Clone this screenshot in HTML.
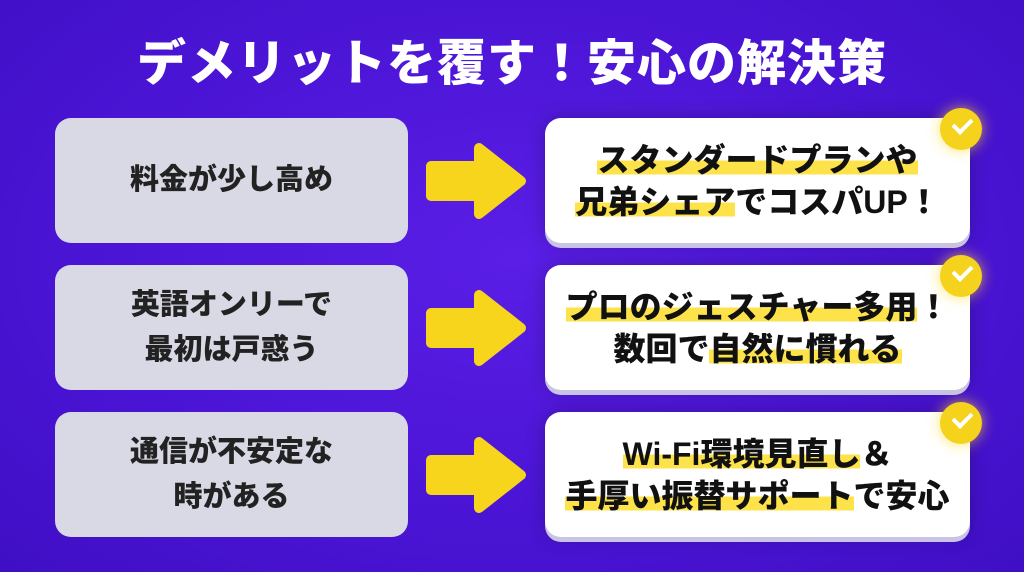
<!DOCTYPE html>
<html><head><meta charset="utf-8"><style>
body{margin:0;width:1024px;height:572px;overflow:hidden;background:radial-gradient(ellipse at 50% 45%,#5a1ee6 0%,#4a14d4 60%,#3f0fc4 100%);font-family:"Liberation Sans","Noto Sans CJK JP",sans-serif;position:relative}
.t{position:absolute;left:0;width:1024px;top:34px;text-align:center;color:#fff;font-size:49px;font-weight:900;letter-spacing:1px;line-height:60px}
.l{position:absolute;left:55px;width:353px;height:125px;background:#d9d9e6;border-radius:16px;display:flex;align-items:center;justify-content:center;text-align:center;font-size:29px;font-weight:900;color:#222;line-height:45px}
.r{position:absolute;left:545px;width:425px;height:125px;background:#fff;border-radius:16px;box-shadow:0 5px 0 #c9c3e6,0 0 18px rgba(0,0,0,.25);display:flex;align-items:center;justify-content:center;text-align:center;font-size:32px;font-weight:900;color:#111;line-height:42px}
.h{background:linear-gradient(transparent 52%,#fde24a 52%,#fde24a 90%,transparent 90%)}
.c{position:absolute;left:940px;width:42px;height:42px;border-radius:50%;background:#f5d21c;box-shadow:0 0 14px rgba(255,220,40,.7)}
.c:after{content:"";position:absolute;left:13px;top:10px;width:15px;height:8px;border-left:4px solid #fff;border-bottom:4px solid #fff;transform:rotate(-45deg)}
.a{position:absolute;left:425px;width:102px;height:80px}
</style></head><body>
<div class="t">デメリットを覆す！安心の解決策</div>

<div class="l" style="top:118px">料金が少し高め</div>
<div class="l" style="top:265px">英語オンリーで<br>最初は戸惑う</div>
<div class="l" style="top:412px">通信が不安定な<br>時がある</div>

<svg class="a" style="top:141px" viewBox="0 0 102 80"><path d="M6 25 H54 V7 L96 40 L54 73 V55 H6 Z" fill="#f7d51c" stroke="#f7d51c" stroke-width="10" stroke-linejoin="round"/></svg>
<svg class="a" style="top:288px" viewBox="0 0 102 80"><path d="M6 25 H54 V7 L96 40 L54 73 V55 H6 Z" fill="#f7d51c" stroke="#f7d51c" stroke-width="10" stroke-linejoin="round"/></svg>
<svg class="a" style="top:435px" viewBox="0 0 102 80"><path d="M6 25 H54 V7 L96 40 L54 73 V55 H6 Z" fill="#f7d51c" stroke="#f7d51c" stroke-width="10" stroke-linejoin="round"/></svg>

<div class="r" style="top:118px"><div><span class="h">スタンダードプランや</span><br><span class="h">兄弟シェア</span>でコスパUP！</div></div>
<div class="r" style="top:265px"><div><span class="h">プロのジェスチャー多用</span>！<br>数回で<span class="h">自然に慣れる</span></div></div>
<div class="r" style="top:412px"><div><span class="h">Wi-Fi環境見直し</span>＆<br><span class="h">手厚い振替サポート</span>で安心</div></div>

<div class="c" style="top:108px"></div>
<div class="c" style="top:255px"></div>
<div class="c" style="top:402px"></div>
</body></html>
